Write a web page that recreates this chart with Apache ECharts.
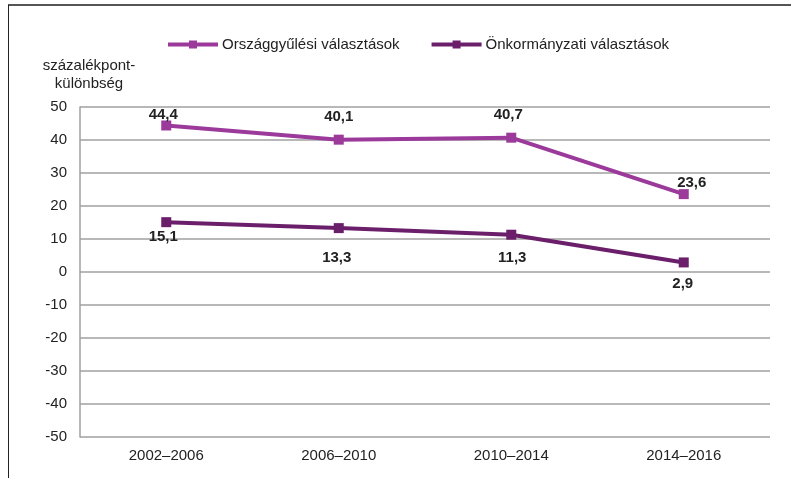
<!DOCTYPE html>
<html>
<head>
<meta charset="utf-8">
<script src="https://cdn.jsdelivr.net/npm/echarts@6/dist/echarts.min.js"></script>
<style>
html,body{margin:0;padding:0;background:#fff;}
#chart{width:791px;height:478px;}
</style>
</head>
<body>
<div id="chart"></div>
<script>
var categories = ['2002–2006', '2006–2010', '2010–2014', '2014–2016'];
var parliamentary = [44.4, 40.1, 40.7, 23.6];
var local = [15.1, 13.3, 11.3, 2.9];
var seriesNames = ['Országgyűlési választások', 'Önkormányzati választások'];
var yTicks = [-50, -40, -30, -20, -10, 0, 10, 20, 30, 40, 50];

// label offsets (pixel nudges, as placed in the original)
var parlLabelOffsets = [[-3, -11], [0, -23], [-3, -23], [8, -11]];
var localLabelOffsets = [[-3, 15], [-2, 30], [1, 23], [-1, 21]];

function fmt(v) { return String(v.toFixed(1)).replace('.', ','); }

var FONT = '"Liberation Sans", Arial, sans-serif';
var FS = 15;
var c1 = '#9b3a9b', c2 = '#6b1f6b';

function buildData(vals, offs) {
  return vals.map(function (v, i) {
    return { value: v, label: { offset: offs[i] } };
  });
}

var chart = echarts.init(document.getElementById('chart'), null, { renderer: 'canvas' });
chart.setOption({
  animation: false,
  backgroundColor: '#fff',
  textStyle: { fontFamily: FONT },
  graphic: [
    { type: 'line', shape: { x1: 8, y1: 5, x2: 791, y2: 5 }, style: { stroke: '#555', lineWidth: 2 } },
    { type: 'line', shape: { x1: 8.5, y1: 5, x2: 8.5, y2: 478 }, style: { stroke: '#222', lineWidth: 1 } }
  ],
  legend: {
    top: 32,
    left: 161,
    itemWidth: 50,
    itemHeight: 10,
    itemGap: 30,
    lineStyle: { width: 4 },
    textStyle: { fontFamily: FONT, fontSize: FS, color: '#222', padding: [0, 0, 0, -1] },
    data: seriesNames
  },
  grid: { left: 80, right: 21, top: 107, bottom: 41 },
  xAxis: {
    type: 'category',
    data: categories,
    boundaryGap: true,
    axisLine: { show: false },
    axisTick: { show: false },
    axisLabel: { fontFamily: FONT, fontSize: FS, color: '#222', margin: 11 }
  },
  yAxis: {
    type: 'value',
    min: yTicks[0],
    max: yTicks[yTicks.length - 1],
    interval: 10,
    name: 'százalékpont-\nkülönbség',
    nameLocation: 'end',
    nameGap: 14,
    nameTextStyle: { fontFamily: FONT, fontSize: FS, color: '#222', align: 'center', lineHeight: 18, padding: [0, 0, 0, 18] },
    axisLine: { show: true, lineStyle: { color: '#a0a0a0', width: 1.5 } },
    axisTick: { show: false },
    axisLabel: { fontFamily: FONT, fontSize: FS, color: '#222', margin: 13 },
    splitLine: { show: true, lineStyle: { color: '#a0a0a0', width: 1.5 } }
  },
  series: [
    {
      name: seriesNames[0],
      type: 'line',
      data: buildData(parliamentary, parlLabelOffsets),
      color: c1,
      lineStyle: { width: 4, color: c1 },
      symbol: 'rect',
      symbolSize: 10,
      itemStyle: { color: c1 },
      label: {
        show: true, position: 'inside', fontFamily: FONT, fontSize: FS, fontWeight: 'bold', color: '#222',
        formatter: function (p) { return fmt(p.value); }
      },
      z: 3
    },
    {
      name: seriesNames[1],
      type: 'line',
      data: buildData(local, localLabelOffsets),
      color: c2,
      lineStyle: { width: 4, color: c2 },
      symbol: 'rect',
      symbolSize: 10,
      itemStyle: { color: c2 },
      label: {
        show: true, position: 'inside', fontFamily: FONT, fontSize: FS, fontWeight: 'bold', color: '#222',
        formatter: function (p) { return fmt(p.value); }
      },
      z: 3
    }
  ]
});
</script>
</body>
</html>
